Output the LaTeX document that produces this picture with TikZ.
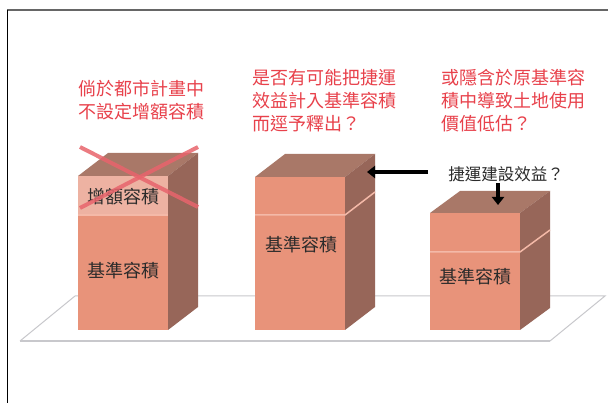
\documentclass[tikz,border=0pt]{standalone}
\usepackage{fontspec}
\newfontfamily\cjk{Noto Sans CJK TC}
\usetikzlibrary{arrows.meta}
\definecolor{frontc}{HTML}{E8937A}
\definecolor{lightc}{HTML}{EDB2A2}
\definecolor{topc}{HTML}{A97868}
\definecolor{sidec}{HTML}{976659}
\definecolor{divc}{HTML}{F4B9A8}
\definecolor{titlec}{HTML}{E8414B}
\definecolor{crossc}{HTML}{E8646C}
\definecolor{floorc}{HTML}{C8C8CC}
\definecolor{labelc}{HTML}{2B2B2B}
\begin{document}
\begin{tikzpicture}[x=1pt,y=-1pt,
  title/.style={text=titlec,font=\cjk\fontsize{18}{23}\selectfont,align=left,inner sep=0pt,anchor=base west},
  boxlabel/.style={text=labelc,font=\cjk\fontsize{18}{22}\selectfont,inner sep=0pt},
  note/.style={text=labelc,font=\cjk\fontsize{16.5}{20}\selectfont,inner sep=0pt},
  front/.style={fill=frontc},
  upper/.style={fill=lightc},
  topface/.style={fill=topc},
  side/.style={fill=sidec},
  divline/.style={draw=divc,line width=1.5pt},
  cross/.style={draw=crossc,opacity=0.85,line width=4pt},
  fatarrow/.style={draw=black,line width=3.5pt,-{Triangle[length=8pt,width=12pt]}}]
\useasboundingbox (0,0) rectangle (608,403);
\fill[white] (0,0) rectangle (608,403);
% frame
\draw[gray!80!black,line width=1.8pt] (7,10) -- (608,10);
\draw[black,line width=0.8pt] (7,10) -- (7,403);
% floor
\draw[floorc,line width=1pt] (75,296) -- (605,296) -- (550,341);
\draw[floorc,line width=1pt] (75,296) -- (20,341);
\draw[floorc,line width=2pt] (20,341) -- (550,341);
% box 1
\fill[front] (78,215) rectangle (168,330);
\fill[upper] (78,176) rectangle (168,215);
\fill[topface] (78,176) -- (108,153) -- (198,153) -- (168,176) -- cycle;
\fill[side] (168,176) -- (198,153) -- (198,307) -- (168,330) -- cycle;
\draw[divline] (78,215) -- (168,215);
% box 2
\fill[front] (255,177) rectangle (345,330);
\fill[topface] (255,177) -- (285,154) -- (375,154) -- (345,177) -- cycle;
\fill[side] (345,177) -- (375,154) -- (375,307) -- (345,330) -- cycle;
\draw[divline] (255,215) -- (345,215) -- (375,192);
% box 3
\fill[front] (430,213) rectangle (520,330);
\fill[topface] (430,213) -- (460,191) -- (550,191) -- (520,213) -- cycle;
\fill[side] (520,213) -- (550,191) -- (550,308) -- (520,330) -- cycle;
\draw[divline] (430,252) -- (520,252) -- (550,230);
% labels
\node[boxlabel] (inc) at (123,197) {增額容積};
\node[boxlabel] (base1) at (123,271) {基準容積};
\node[boxlabel] (base2) at (301,245) {基準容積};
\node[boxlabel] (base3) at (475,277) {基準容積};
% red cross
\coordinate (xa) at (80,147);
\coordinate (xb) at (198,207);
\coordinate (xc) at (80,208);
\coordinate (xd) at (198,147);
\draw[cross] (xa) -- (xb);
\draw[cross] (xc) -- (xd);
% titles
\node[title] (t1) at (78,119) {倘於都市計畫中\\不設定增額容積};
\node[title] (t2) at (252,131) {是否有可能把捷運\\效益計入基準容積\\而逕予釋出？};
\node[title] (t3) at (441,131) {或隱含於原基準容\\積中導致土地使用\\價值低估？};
% note and arrows
\node[note] (nt) at (506,174) {捷運建設效益？};
\coordinate (a1s) at (428,172);
\coordinate (a1e) at (367,172);
\coordinate (a2s) at (498,183);
\coordinate (a2e) at (498,205);
\draw[fatarrow] (a1s) -- (a1e);
\draw[fatarrow] (a2s) -- (a2e);
\end{tikzpicture}
\end{document}
